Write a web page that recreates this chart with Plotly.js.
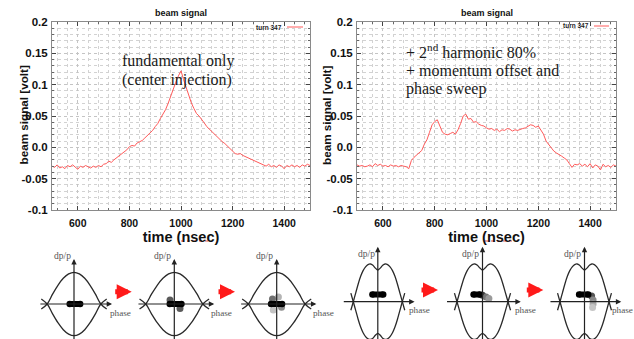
<!DOCTYPE html>
<html><head><meta charset="utf-8">
<script src="https://cdn.plot.ly/plotly-3.0.1.min.js"></script>
<style>html,body{margin:0;padding:0;background:#fff;}#chart{width:634px;height:339px;}</style>
</head><body><div id="chart"></div>
<script>
// ---------- data ----------
const timeNs = [
 500,510,520,530,540,550,560,570,580,590,
 600,610,620,630,640,650,660,670,680,690,
 700,710,720,730,740,750,760,770,780,790,
 800,810,820,830,840,850,860,870,880,890,
 900,910,920,930,940,950,960,970,980,990,
 1000,1010,1020,1030,1040,1050,1060,1070,1080,1090,
 1100,1110,1120,1130,1140,1150,1160,1170,1180,1190,
 1200,1210,1220,1230,1240,1250,1260,1270,1280,1290,
 1300,1310,1320,1330,1340,1350,1360,1370,1380,1390,
 1400,1410,1420,1430,1440,1450,1460,1470,1480,1490,
 1500];
const fundamentalOnly = [
 -0.030,-0.032,-0.028,-0.033,-0.031,-0.034,-0.029,-0.031,-0.028,-0.032,
 -0.035,-0.030,-0.032,-0.029,-0.031,-0.033,-0.030,-0.032,-0.029,-0.031,
 -0.027,-0.026,-0.022,-0.024,-0.020,-0.017,-0.014,-0.011,-0.008,-0.004,
 0.001,0.003,0.002,0.007,0.009,0.011,0.015,0.019,0.023,0.027,
 0.033,0.038,0.046,0.052,0.060,0.070,0.082,0.092,0.104,0.114,
 0.122,0.108,0.095,0.082,0.071,0.062,0.054,0.050,0.045,0.039,
 0.033,0.029,0.024,0.020,0.016,0.012,0.009,0.006,0.002,-0.003,
 -0.007,-0.010,-0.011,-0.010,-0.013,-0.015,-0.017,-0.019,-0.021,-0.023,
 -0.025,-0.027,-0.029,-0.030,-0.027,-0.031,-0.029,-0.032,-0.028,-0.030,
 -0.034,-0.029,-0.031,-0.028,-0.031,-0.029,-0.032,-0.028,-0.030,-0.027,
 -0.029];
const harmonicSweep = [
 -0.028,-0.030,-0.029,-0.031,-0.030,-0.028,-0.031,-0.026,-0.029,-0.027,
 -0.030,-0.029,-0.031,-0.028,-0.030,-0.029,-0.031,-0.029,-0.030,-0.031,
 -0.034,-0.021,-0.016,-0.012,-0.008,-0.005,0.005,0.012,0.024,0.036,
 0.041,0.044,0.034,0.024,0.021,0.020,0.022,0.024,0.021,0.028,
 0.038,0.050,0.053,0.045,0.046,0.040,0.041,0.037,0.035,0.034,
 0.031,0.029,0.030,0.027,0.029,0.025,0.028,0.027,0.030,0.029,
 0.026,0.028,0.027,0.029,0.030,0.031,0.034,0.036,0.035,0.032,
 0.034,0.027,0.021,0.010,0.004,-0.002,-0.006,-0.009,-0.011,-0.014,
 -0.017,-0.020,-0.026,-0.032,-0.027,-0.028,-0.026,-0.030,-0.027,-0.031,
 -0.026,-0.033,-0.028,-0.030,-0.036,-0.027,-0.031,-0.029,-0.032,-0.028,
 -0.030];
const seriesName = 'turn 347';
const yTickVals = [-0.1,-0.05,0,0.05,0.1,0.15,0.2];
const yTickText = ['-0.1','-0.05','0.0','0.05','0.1','0.15','0.2'];

// separatrix shapes (phase normalised to the crossing points, dp/p normalised)
const sepPhaseFund = [-1.22,-1,-0.8,-0.6,-0.4,-0.2,0,0.2,0.4,0.6,0.8,1,1.22];
const sepDpFund    = [-0.16,0,0.31,0.59,0.81,0.95,1,0.95,0.81,0.59,0.31,0,-0.16];
const sepPhaseHarm = [-1.1,-1,-0.9,-0.8,-0.7,-0.6,-0.5,-0.4,-0.3,-0.2,-0.1,0,0.1,0.2,0.3,0.4,0.5,0.6,0.7,0.8,0.9,1,1.1];
const sepDpHarm    = [-0.27,0,0.28,0.56,0.8,0.98,1.1,1.17,1.19,1.15,1.06,1.0,1.06,1.15,1.19,1.17,1.1,0.98,0.8,0.56,0.28,0,-0.27];
// bunch core (two ends) and bunch halo, per diagram
const bunchPhase = [[-0.16,0.23],[-0.16,0.25],[-0.2,0.19],[-0.22,0.22],[-0.35,-0.1],[-0.22,0.15]];
const bunchDp    = [0,0,0,0.23,0.23,0.23];
const haloPhase  = [[],[-0.15,0.2],[-0.12,0.06,-0.15,0.17],[],[0.0,0.14,0.25],[0.29,0.35,0.35,0.33]];
const haloDp     = [[],[0.13,-0.14],[-0.19,0.22,0.16,-0.1],[],[0.2,0.15,0.1],[0.18,0.05,-0.07,-0.18]];
const axisLabels = ['dp/p','phase'];

// ---------- styling / placement ----------
const W = 634, H = 339;
const haloShade = [[],['#5a5a5a','#5a5a5a'],['#c4c4c4','#b4b4b4','#707070','#8c8c8c'],[],['#444444','#777777','#9a9a9a'],['#555555','#888888','#aaaaaa','#c6c6c6']];
const diag = [
  {cx:74,    cy:304,   sx:26.8, sy:31.7, kind:'fund', ax0:-1.31, ax1:1.42, ay1:1.42, top:1.7, lblY:1.53, phU:1.27, phY:-0.28},
  {cx:174.3, cy:304,   sx:28.5, sy:31.7, kind:'fund', ax0:-1.31, ax1:1.40, ay1:1.42, top:1.7, lblY:1.53, phU:1.22, phY:-0.28},
  {cx:276.7, cy:304,   sx:28.3, sy:31.7, kind:'fund', ax0:-1.31, ax1:1.40, ay1:1.42, top:1.7, lblY:1.53, phU:1.22, phY:-0.28},
  {cx:377.8, cy:301.7, sx:24.5, sy:31.7, kind:'harm', ax0:-1.45, ax1:1.5, ay1:1.73, top:1.9, lblY:1.5, phU:1.18, phY:-0.26},
  {cx:482.5, cy:301.7, sx:25.5, sy:31.7, kind:'harm', ax0:-1.45, ax1:1.5, ay1:1.73, top:1.9, lblY:1.5, phU:1.18, phY:-0.26},
  {cx:584.5, cy:301.7, sx:24.5, sy:31.7, kind:'harm', ax0:-1.45, ax1:1.5, ay1:1.73, top:1.9, lblY:1.5, phU:1.04, phY:-0.26}
];
const red = '#ff5a5a';
const sans = 'Liberation Sans';
const serif = 'Liberation Serif';

const traces = [
  {x:timeNs, y:fundamentalOnly, xaxis:'x', yaxis:'y', type:'scatter', mode:'lines', name:seriesName,
   line:{color:red, width:1}, showlegend:false, hoverinfo:'skip'},
  {x:timeNs, y:harmonicSweep, xaxis:'x2', yaxis:'y2', type:'scatter', mode:'lines', name:seriesName,
   line:{color:red, width:1}, showlegend:false, hoverinfo:'skip'}
];

function mainX(d0, d1, anchor){
  return {domain:[d0/W, d1/W], anchor:anchor, range:[500,1500], tickmode:'linear', tick0:600, dtick:200,
    ticks:'inside', ticklen:4, tickwidth:1, tickcolor:'#444', showline:true, linecolor:'#8a8a8a', linewidth:1,
    mirror:'ticks', zeroline:false, showgrid:true, gridcolor:'#c4c4c4', griddash:'dot', gridwidth:1,
    minor:{dtick:40, tick0:520, ticks:'inside', ticklen:2, tickcolor:'#666', showgrid:true, gridcolor:'#d2d2d2', griddash:'dot'},
    tickfont:{family:sans, size:10.5, color:'#111', weight:'bold'}, ticklabelstandoff:3,
    title:{text:'time (nsec)', font:{family:sans, size:14.5, color:'#111', weight:'bold'}, standoff:0}};
}
function mainY(anchor){
  return {domain:[1-210/H, 1-22/H], anchor:anchor, range:[-0.1,0.2], tickmode:'array', tickvals:yTickVals, ticktext:yTickText,
    ticks:'inside', ticklen:4, tickwidth:1, tickcolor:'#444', showline:true, linecolor:'#8a8a8a', linewidth:1,
    mirror:'ticks', zeroline:false, showgrid:true, gridcolor:'#c4c4c4', griddash:'dot', gridwidth:1,
    minor:{tickmode:'linear', tick0:-0.1, dtick:0.01, ticks:'inside', ticklen:2, tickcolor:'#666', showgrid:true, gridcolor:'#d2d2d2', griddash:'dot'},
    tickfont:{family:sans, size:11.5, color:'#111', weight:'bold'}, ticklabelstandoff:1};
}

const layout = {
  width:W, height:H, margin:{l:0,r:0,t:0,b:0}, paper_bgcolor:'#fff', plot_bgcolor:'#fff', showlegend:false,
  xaxis: mainX(52, 310, 'y'), yaxis: mainY('x'),
  xaxis2: mainX(357, 616, 'y2'), yaxis2: mainY('x2'),
  annotations:[], shapes:[]
};

// titles, y titles, legends, notes
[181, 487].forEach(px=>{
  layout.annotations.push({xref:'paper', yref:'paper', x:px/W, y:1-13/H, text:'beam signal', showarrow:false,
    font:{family:sans, size:9, color:'#111', weight:'bold'}, xanchor:'center', yanchor:'middle'});
});
[23, 326.5].forEach(px=>{
  layout.annotations.push({xref:'paper', yref:'paper', x:px/W, y:1-115.5/H, text:'beam signal [volt]', textangle:-90, showarrow:false,
    font:{family:sans, size:11.7, color:'#111', weight:'bold'}, xanchor:'center', yanchor:'middle'});
});
[[284,287,303,27],[591,594,609,26]].forEach(([tx,l0,l1,py])=>{
  layout.annotations.push({xref:'paper', yref:'paper', x:tx/W, y:1-py/H, text:seriesName, showarrow:false,
    font:{family:sans, size:6.5, color:'#222', weight:'bold'}, xanchor:'right', yanchor:'middle'});
  layout.shapes.push({type:'line', xref:'paper', yref:'paper', x0:l0/W, x1:l1/W, y0:1-py/H, y1:1-py/H, line:{color:red, width:1}});
});
// spell-check squiggles under "nsec"
[[181,210],[485,515]].forEach(([a,b])=>{
  layout.shapes.push({type:'line', xref:'paper', yref:'paper', x0:a/W, x1:b/W, y0:1-241/H, y1:1-241/H, line:{color:'#e05050', width:1, dash:'dot'}});
});
const notes = [
  {x:119.5, y:61, t:'fundamental only'},
  {x:119.5, y:79.5, t:'(center injection)'},
  {x:404, y:51.5, t:'+ 2<sup>nd</sup> harmonic 80%'},
  {x:404, y:70, t:'+ momentum offset and'},
  {x:404, y:88.5, t:'phase sweep'}
];
notes.forEach(n=>layout.annotations.push({xref:'paper', yref:'paper', x:n.x/W, y:1-n.y/H, text:n.t, showarrow:false,
  xanchor:'left', yanchor:'middle', font:{family:serif, size:16, color:'#1a1a1a'}}));

// phase-space diagrams
diag.forEach((d,i)=>{
  const xa = 'x'+(i+3), ya = 'y'+(i+3);
  const yb = -(H-d.cy)/d.sy;
  layout['xaxis'+(i+3)] = {domain:[(d.cx-1.9*d.sx)/W, (d.cx+1.9*d.sx)/W], range:[-1.9,1.9], anchor:ya, visible:false, fixedrange:true};
  layout['yaxis'+(i+3)] = {domain:[0, (H-(d.cy-d.top*d.sy))/H], range:[yb, d.top], anchor:xa, visible:false, fixedrange:true};
  const ph = d.kind==='fund' ? sepPhaseFund : sepPhaseHarm;
  const dp = d.kind==='fund' ? sepDpFund : sepDpHarm;
  traces.push({x:ph.concat([null], ph), y:dp.concat([null], dp.map(v=>-v)), xaxis:xa, yaxis:ya, type:'scatter', mode:'lines',
    line:{color:'#2a2a2a', width:1.3, shape:'spline', smoothing:1}, connectgaps:false, showlegend:false, hoverinfo:'skip'});
  // axis arrows
  layout.annotations.push({xref:xa, yref:ya, axref:xa, ayref:ya, x:d.ax1, y:0, ax:d.ax0, ay:0, text:'', showarrow:true,
    arrowhead:2, arrowsize:0.9, arrowwidth:1.2, arrowcolor:'#222'});
  layout.annotations.push({xref:xa, yref:ya, axref:xa, ayref:ya, x:0, y:d.ay1, ax:0, ay:yb-0.3, text:'', showarrow:true,
    arrowhead:2, arrowsize:0.9, arrowwidth:1.2, arrowcolor:'#222'});
  layout.annotations.push({xref:xa, yref:ya, x:-0.05, y:d.lblY, text:axisLabels[0], showarrow:false, xanchor:'right', yanchor:'middle',
    font:{family:serif, size:9.5, color:'#555'}});
  layout.annotations.push({xref:xa, yref:ya, x:d.phU, y:d.phY, text:axisLabels[1], showarrow:false, xanchor:'left', yanchor:'middle',
    font:{family:serif, size:9.2, color:'#555'}});
  // bunch halo + core
  if (haloPhase[i].length){
    traces.push({x:haloPhase[i], y:haloDp[i], xaxis:xa, yaxis:ya, type:'scatter', mode:'markers',
      marker:{size:7, color:haloShade[i]}, showlegend:false, hoverinfo:'skip', cliponaxis:false});
  }
  traces.push({x:bunchPhase[i], y:[bunchDp[i], bunchDp[i]], xaxis:xa, yaxis:ya, type:'scatter', mode:'lines+markers',
    line:{color:'#000', width:6}, marker:{size:6.5, color:'#000'}, showlegend:false, hoverinfo:'skip', cliponaxis:false});
});
// red transition arrows
[[131.7,291.7],[235,291.7],[438,290],[543.3,290]].forEach(([hx,hy])=>{
  layout.annotations.push({xref:'paper', yref:'paper', x:hx/W, y:1-hy/H, ax:-18, ay:0, text:'', showarrow:true,
    arrowhead:2, arrowsize:0.6, arrowwidth:5, arrowcolor:'#ff1a1a'});
});

Plotly.newPlot('chart', traces, layout, {staticPlot:true, displayModeBar:false});
</script>
</body></html>
